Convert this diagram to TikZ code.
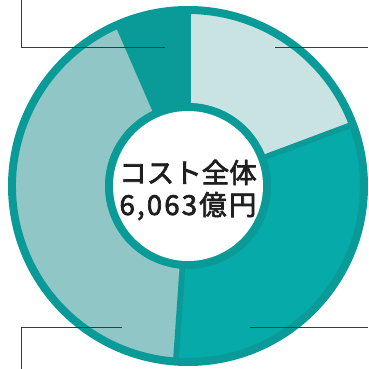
\documentclass[tikz,border=0pt]{standalone}
\usepackage{fontspec}
\newfontfamily\jpfont[FakeBold=2.5]{Noto Sans CJK JP}
\newfontfamily\jpnum[FakeBold=2.5,LetterSpace=8]{Noto Sans CJK JP}
\definecolor{ringdark}{HTML}{0A9B98}
\definecolor{segteal}{HTML}{05AAA9}
\definecolor{segmid}{HTML}{91C6C7}
\definecolor{seglight}{HTML}{C9E3E3}
\definecolor{leadgray}{HTML}{3A3A3A}
\tikzset{
  seg/.style={draw=ringdark,line width=5.5pt,line join=miter},
  leader/.style={draw=leadgray,line width=0.9pt}
}
\begin{document}
\begin{tikzpicture}[x=1pt,y=1pt]
\useasboundingbox (0,0) rectangle (368,369);

\coordinate (c) at (188,183);
\fill[ringdark] (c) circle (180pt);
\foreach \a/\b/\col in {20.5/90/seglight,-94/20.5/segteal,113.5/266/segmid}
  \draw[seg,fill=\col] ([shift={(\a:174.75pt)}]c) arc (\a:\b:174.75pt)
    -- ([shift={(\b:80pt)}]c) arc (\b:\a:80pt) -- cycle;
\fill[ringdark] (c) circle (83pt);
\fill[white] (c) circle (75pt);

\node[font=\fontsize{27.5}{32}\selectfont,align=center,text=black!88] (total) at (188,179) {{\jpfont コスト全体}\\{\jpnum 6,063億円}};

% leader lines
\coordinate (tlA) at (21,369);
\coordinate (tlB) at (21,322);
\coordinate (tlC) at (165,322);
\coordinate (trA) at (275,322);
\coordinate (trB) at (368,322);
\coordinate (blA) at (122,42);
\coordinate (blB) at (21,42);
\coordinate (blC) at (21,0);
\coordinate (brA) at (250,42);
\coordinate (brB) at (368,42);
\draw[leader] (tlA) -- (tlB) -- (tlC);
\draw[leader] (trA) -- (trB);
\draw[leader] (blA) -- (blB) -- (blC);
\draw[leader] (brA) -- (brB);
\end{tikzpicture}
\end{document}
